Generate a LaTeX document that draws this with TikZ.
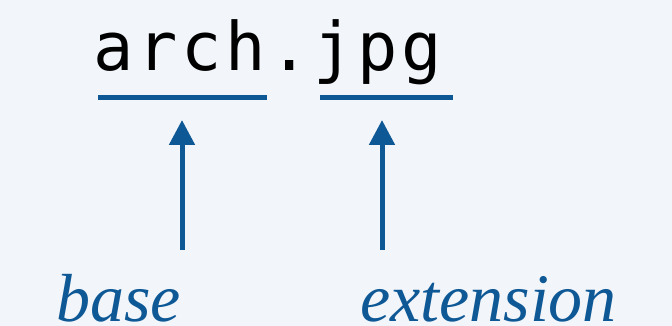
\documentclass[tikz,border=0pt]{standalone}
\usepackage{fontspec}
\setmainfont{Liberation Serif}
\newfontfamily\codefont[LetterSpace=5.5]{DejaVu Sans Mono}
\usetikzlibrary{arrows.meta}
\definecolor{bgcol}{RGB}{242,245,249}
\definecolor{ink}{RGB}{14,88,150}
\begin{document}
\begin{tikzpicture}[x=1pt,y=-1pt,
  code/.style={inner sep=0pt,font=\codefont\fontsize{67}{67}\selectfont,text=black},
  lbl/.style={inner sep=0pt,font=\itshape\fontsize{68}{68}\selectfont,text=ink},
  uline/.style={draw=ink,line width=5pt},
  uparrow/.style={draw=ink,line width=5pt,-{Triangle[width=25pt,length=25pt]}}]
  \fill[bgcol] (0,0) rectangle (672,326);
  \useasboundingbox (0,0) rectangle (672,326);
  % file name
  \node[code,anchor=base west] (file) at (93,71) {arch.jpg};
  % underlines under the two parts
  \coordinate (bL) at (98,98);  \coordinate (bR) at (267,98);
  \coordinate (eL) at (320,98); \coordinate (eR) at (453,98);
  \draw[uline] (bL) -- (bR);
  \draw[uline] (eL) -- (eR);
  % labels
  \node[lbl,anchor=base] (base) at (118.5,321) {base};
  \node[lbl,anchor=base] (ext) at (488.5,321) {extension};
  % arrows
  \coordinate (b1) at (182,250); \coordinate (b2) at (182,120);
  \coordinate (e1) at (382,250); \coordinate (e2) at (382,120);
  \draw[uparrow] (b1) -- (b2);
  \draw[uparrow] (e1) -- (e2);
\end{tikzpicture}
\end{document}
